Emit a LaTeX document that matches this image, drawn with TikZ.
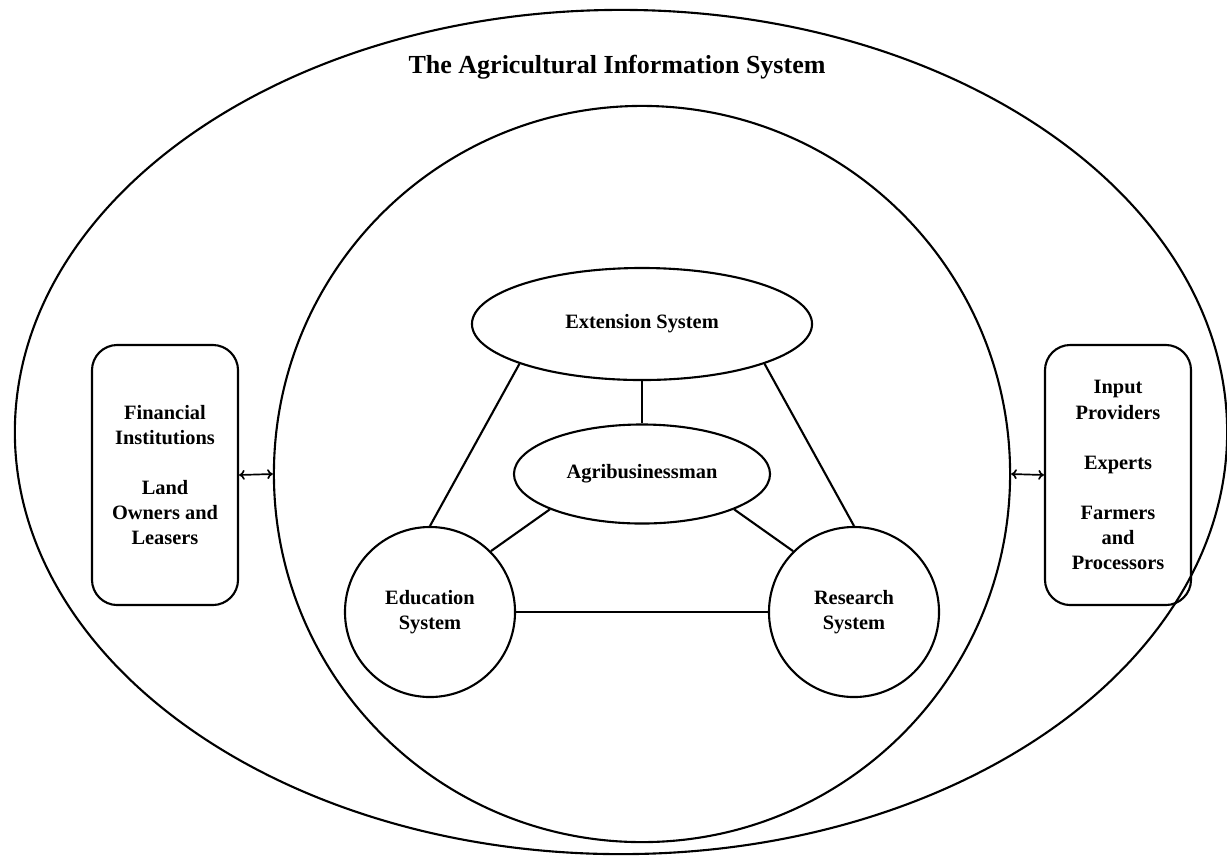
\documentclass[tikz,border=0pt]{standalone}
\usepackage{fontspec}
\setmainfont{Liberation Serif}
\usetikzlibrary{shapes.geometric, arrows.meta}

\tikzset{
  every node/.style={font=\bfseries\fontsize{14.5}{17.8}\selectfont, align=center},
  oval/.style={draw, ellipse, line width=1.5pt, inner sep=0pt},
  ring/.style={draw, circle, line width=1.5pt, inner sep=0pt},
  sidebox/.style={draw, rounded corners=18pt, line width=1.5pt, minimum width=3.65cm, minimum height=6.5cm},
  link/.style={line width=1.5pt},
  dlink/.style={line width=1.2pt, {To[length=4pt,width=7pt]}-{To[length=4pt,width=7pt]}}
}

\begin{document}
\begin{tikzpicture}[x=0.025cm, y=-0.025cm]
  \useasboundingbox (0,0) rectangle (1227,858);

  % outer system and inner circle
  \node[oval, minimum width=30.3cm, minimum height=21.1cm] (ais) at (621,432) {};
  \node[font=\bfseries\fontsize{18.5}{22}\selectfont] (title) at (617,67) {The Agricultural Information System};
  \node[ring, minimum size=18.4cm] (inner) at (642,474) {};

  % actors
  \node[oval, minimum width=8.5cm, minimum height=2.8cm] (ext) at (642,324) {Extension System};
  \node[oval, minimum width=6.4cm, minimum height=2.475cm] (agri) at (642,474) {Agribusinessman};
  \node[ring, minimum size=4.25cm] (edu) at (430,612) {Education\\System};
  \node[ring, minimum size=4.25cm] (res) at (854,612) {Research\\System};

  % side boxes
  \node[sidebox] (lbox) at (165,475) {Financial\\Institutions\\[17.8pt]Land\\Owners and\\Leasers};
  \node[sidebox] (rbox) at (1118,475) {Input\\Providers\\[17.8pt]Experts\\[17.8pt]Farmers\\and\\Processors};

  \draw[link] (ext) -- (agri);
  \draw[link] (ext.198) -- (edu.north);
  \draw[link] (ext.342) -- (res.north);
  \draw[link] (agri.201) -- (edu.45);
  \draw[link] (agri.339) -- (res.135);
  \draw[link] (edu) -- (res);

  \draw[dlink] (lbox.east) -- (inner.west);
  \draw[dlink] (inner.east) -- (rbox.west);
\end{tikzpicture}
\end{document}
